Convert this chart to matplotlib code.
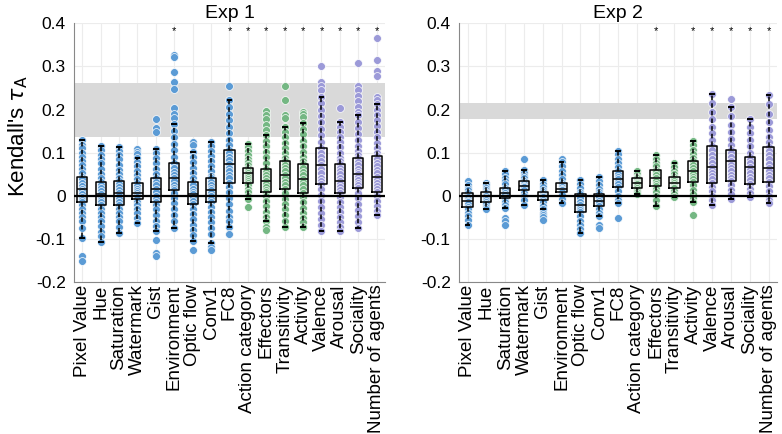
import numpy as np
import matplotlib
matplotlib.use("Agg")
import matplotlib.pyplot as plt

plt.rcParams['font.family'] = ['Liberation Sans', 'DejaVu Sans']

labels = ["Pixel Value", "Hue", "Saturation", "Watermark", "Gist", "Environment",
          "Optic flow", "Conv1", "FC8", "Action category", "Effectors", "Transitivity",
          "Activity", "Valence", "Arousal", "Sociality", "Number of agents"]

# colour group of each category: 0 = blue, 1 = green, 2 = purple
groups = [0, 0, 0, 0, 0, 0, 0, 0, 0, 1, 1, 1, 1, 2, 2, 2, 2]
group_colors = ['#5B9BD5', '#74B783', '#9C9AD8']

# Exp 1 - individual subject values
exp1_points = [
    [0.129, 0.118, 0.110, 0.100, 0.090, 0.080, 0.070, 0.062, 0.052, 0.044, 0.038, 0.030, 0.022, 0.016,
     0.010, 0.004, -0.004, -0.010, -0.014, -0.022, -0.030, -0.040, -0.050, -0.060, -0.075, -0.099, -0.141, -0.151],
    [0.116, 0.105, 0.095, 0.085, 0.075, 0.062, 0.050, 0.040, 0.032, 0.025, 0.018, 0.010, 0.003, -0.004,
     -0.010, -0.016, -0.023, -0.030, -0.040, -0.050, -0.060, -0.070, -0.085, -0.095, -0.108],
    [0.114, 0.104, 0.094, 0.084, 0.072, 0.060, 0.050, 0.042, 0.035, 0.028, 0.020, 0.012, 0.006, 0.000,
     -0.008, -0.015, -0.022, -0.030, -0.040, -0.050, -0.060, -0.072, -0.086],
    [0.108, 0.102, 0.096, 0.087, 0.078, 0.068, 0.058, 0.048, 0.038, 0.029, 0.022, 0.015, 0.010, 0.006,
     0.002, -0.003, -0.008, -0.015, -0.022, -0.030, -0.040, -0.052, -0.064],
    [0.178, 0.156, 0.148, 0.108, 0.098, 0.088, 0.075, 0.062, 0.050, 0.040, 0.032, 0.024, 0.015, 0.008,
     0.000, -0.007, -0.014, -0.022, -0.032, -0.045, -0.058, -0.070, -0.083, -0.103, -0.134, -0.140],
    [0.326, 0.321, 0.288, 0.264, 0.248, 0.203, 0.190, 0.180, 0.166, 0.150, 0.135, 0.120, 0.105, 0.090,
     0.075, 0.065, 0.055, 0.048, 0.040, 0.033, 0.025, 0.018, 0.013, 0.005, -0.005, -0.018, -0.030, -0.045,
     -0.060, -0.076],
    [0.125, 0.118, 0.102, 0.090, 0.078, 0.065, 0.052, 0.040, 0.032, 0.024, 0.016, 0.008, 0.003, -0.004,
     -0.012, -0.020, -0.030, -0.042, -0.055, -0.068, -0.080, -0.092, -0.105, -0.126],
    [0.125, 0.115, 0.104, 0.092, 0.080, 0.068, 0.056, 0.046, 0.040, 0.032, 0.024, 0.018, 0.013, 0.006,
     -0.002, -0.009, -0.016, -0.026, -0.038, -0.050, -0.062, -0.075, -0.090, -0.110, -0.120, -0.126],
    [0.255, 0.222, 0.205, 0.190, 0.175, 0.160, 0.145, 0.130, 0.118, 0.106, 0.098, 0.090, 0.082, 0.073,
     0.065, 0.056, 0.048, 0.040, 0.030, 0.020, 0.008, -0.005, -0.020, -0.035, -0.050, -0.060, -0.072, -0.089],
    [0.121, 0.112, 0.104, 0.095, 0.086, 0.078, 0.070, 0.065, 0.060, 0.056, 0.052, 0.048, 0.043, 0.038,
     0.034, 0.030, 0.024, 0.016, 0.008, 0.000, -0.008, -0.027],
    [0.197, 0.188, 0.178, 0.165, 0.152, 0.141, 0.128, 0.115, 0.102, 0.090, 0.076, 0.062, 0.055, 0.048,
     0.040, 0.035, 0.028, 0.020, 0.014, 0.009, 0.000, -0.012, -0.025, -0.038, -0.050, -0.060, -0.072, -0.080],
    [0.254, 0.222, 0.187, 0.180, 0.160, 0.148, 0.135, 0.122, 0.110, 0.098, 0.088, 0.081, 0.072, 0.064,
     0.056, 0.048, 0.040, 0.032, 0.024, 0.015, 0.005, -0.008, -0.020, -0.032, -0.045, -0.058, -0.072],
    [0.195, 0.190, 0.183, 0.169, 0.155, 0.142, 0.128, 0.115, 0.102, 0.090, 0.080, 0.073, 0.064, 0.055,
     0.047, 0.039, 0.031, 0.024, 0.016, 0.007, -0.004, -0.015, -0.028, -0.040, -0.052, -0.062, -0.072],
    [0.301, 0.264, 0.254, 0.245, 0.230, 0.215, 0.200, 0.185, 0.170, 0.155, 0.140, 0.125, 0.111, 0.100,
     0.090, 0.080, 0.071, 0.062, 0.052, 0.042, 0.034, 0.026, 0.015, 0.002, -0.012, -0.026, -0.040, -0.054,
     -0.068, -0.083],
    [0.204, 0.172, 0.160, 0.148, 0.136, 0.124, 0.112, 0.100, 0.088, 0.080, 0.073, 0.065, 0.057, 0.050,
     0.042, 0.035, 0.028, 0.021, 0.014, 0.007, -0.003, -0.014, -0.026, -0.038, -0.050, -0.062, -0.072, -0.083],
    [0.309, 0.254, 0.245, 0.232, 0.220, 0.205, 0.195, 0.187, 0.172, 0.158, 0.144, 0.130, 0.116, 0.104,
     0.095, 0.087, 0.078, 0.070, 0.062, 0.055, 0.050, 0.044, 0.037, 0.030, 0.024, 0.017, 0.006, -0.006,
     -0.020, -0.034, -0.048, -0.062, -0.076],
    [0.365, 0.315, 0.290, 0.279, 0.228, 0.222, 0.213, 0.200, 0.188, 0.175, 0.162, 0.148, 0.135, 0.122,
     0.110, 0.100, 0.092, 0.084, 0.076, 0.068, 0.060, 0.052, 0.044, 0.037, 0.030, 0.023, 0.016, 0.009,
     0.000, -0.012, -0.024, -0.035, -0.045],
]

# Exp 1 - box summaries
exp1_med = [0.016, 0.003, 0.006, 0.006, 0.015, 0.040, 0.003, 0.013, 0.073, 0.052, 0.035, 0.048, 0.039,
            0.071, 0.035, 0.050, 0.044]
exp1_q1 = [-0.014, -0.023, -0.022, -0.008, -0.014, 0.013, -0.020, -0.016, 0.030, 0.030, 0.009, 0.015, 0.007,
           0.026, 0.007, 0.017, 0.009]
exp1_q3 = [0.044, 0.0325, 0.035, 0.029, 0.040, 0.075, 0.0325, 0.040, 0.106, 0.065, 0.062, 0.081, 0.073,
           0.111, 0.073, 0.087, 0.092]
exp1_wlo = [-0.099, -0.108, -0.086, -0.064, -0.083, -0.076, -0.105, -0.110, -0.072, -0.008, -0.060, -0.072,
            -0.072, -0.083, -0.083, -0.076, -0.045]
exp1_whi = [0.129, 0.116, 0.114, 0.087, 0.108, 0.166, 0.102, 0.125, 0.222, 0.121, 0.141, 0.160, 0.169,
            0.230, 0.172, 0.187, 0.213]
exp1_sig = [6, 9, 10, 11, 12, 13, 14, 15, 16, 17]
exp1_band = (0.135, 0.261)

# Exp 2 - individual subject values
exp2_points = [
    [0.033, 0.025, 0.018, 0.012, 0.005, 0.000, -0.004, -0.008, -0.012, -0.016, -0.020, -0.026, -0.032,
     -0.040, -0.048, -0.056, -0.068],
    [0.030, 0.024, 0.018, 0.013, 0.009, 0.005, 0.001, -0.002, -0.006, -0.010, -0.015, -0.020, -0.026, -0.032],
    [0.057, 0.050, 0.042, 0.034, 0.026, 0.017, 0.012, 0.006, 0.002, -0.005, -0.010, -0.016, -0.022, -0.029,
     -0.052, -0.060, -0.068],
    [0.085, 0.060, 0.052, 0.045, 0.040, 0.035, 0.030, 0.026, 0.023, 0.019, 0.013, 0.006, -0.002, -0.010, -0.022],
    [0.036, 0.028, 0.020, 0.013, 0.009, 0.004, 0.000, -0.004, -0.010, -0.016, -0.024, -0.032, -0.040, -0.045,
     -0.050, -0.057],
    [0.085, 0.077, 0.068, 0.058, 0.048, 0.038, 0.030, 0.024, 0.019, 0.0155, 0.012, 0.009, 0.002, -0.008, -0.018],
    [0.036, 0.028, 0.018, 0.008, 0.003, -0.006, -0.014, -0.022, -0.028, -0.034, -0.039, -0.048, -0.058, -0.068,
     -0.078, -0.086],
    [0.043, 0.035, 0.025, 0.016, 0.008, 0.003, -0.004, -0.012, -0.018, -0.025, -0.032, -0.040, -0.047, -0.068,
     -0.075],
    [0.104, 0.096, 0.086, 0.076, 0.066, 0.057, 0.050, 0.043, 0.038, 0.032, 0.026, 0.019, 0.010, 0.000, -0.010,
     -0.018, -0.052],
    [0.057, 0.050, 0.044, 0.040, 0.036, 0.032, 0.029, 0.026, 0.022, 0.017, 0.012, 0.008, 0.004],
    [0.094, 0.085, 0.076, 0.068, 0.060, 0.054, 0.047, 0.040, 0.034, 0.028, 0.023, 0.016, 0.008, 0.000, -0.010,
     -0.025],
    [0.075, 0.066, 0.058, 0.050, 0.043, 0.038, 0.033, 0.029, 0.025, 0.021, 0.017, 0.010, 0.003, -0.004],
    [0.127, 0.117, 0.106, 0.096, 0.088, 0.080, 0.072, 0.064, 0.056, 0.050, 0.044, 0.038, 0.0325, 0.024, 0.014,
     0.004, -0.006, -0.016, -0.045],
    [0.236, 0.215, 0.195, 0.178, 0.160, 0.145, 0.130, 0.116, 0.105, 0.094, 0.084, 0.075, 0.067, 0.060, 0.053,
     0.046, 0.039, 0.030, 0.020, 0.010, 0.000, -0.010, -0.022],
    [0.224, 0.206, 0.185, 0.165, 0.148, 0.132, 0.118, 0.106, 0.098, 0.090, 0.080, 0.072, 0.064, 0.056, 0.048,
     0.040, 0.034, 0.024, 0.014, 0.004, -0.008],
    [0.177, 0.160, 0.145, 0.130, 0.115, 0.100, 0.090, 0.083, 0.076, 0.067, 0.060, 0.052, 0.044, 0.036, 0.026,
     0.016, 0.006, -0.004],
    [0.234, 0.212, 0.190, 0.170, 0.152, 0.136, 0.124, 0.114, 0.104, 0.094, 0.084, 0.074, 0.064, 0.056, 0.048,
     0.040, 0.0325, 0.022, 0.010, 0.000, -0.010, -0.018],
]

# Exp 2 - box summaries
exp2_med = [-0.012, -0.002, 0.006, 0.023, 0.000, 0.0155, -0.022, -0.012, 0.038, 0.029, 0.040, 0.029, 0.056,
            0.067, 0.080, 0.067, 0.064]
exp2_q1 = [-0.026, -0.015, -0.005, 0.013, -0.010, 0.009, -0.039, -0.025, 0.019, 0.017, 0.023, 0.017, 0.0325,
           0.030, 0.034, 0.026, 0.0325]
exp2_q3 = [0.005, 0.009, 0.017, 0.035, 0.009, 0.030, 0.003, 0.003, 0.057, 0.040, 0.060, 0.043, 0.080,
           0.116, 0.106, 0.090, 0.114]
exp2_wlo = [-0.068, -0.032, -0.029, -0.022, -0.032, -0.018, -0.086, -0.047, -0.018, 0.004, -0.025, -0.004,
            -0.016, -0.022, -0.008, -0.004, -0.018]
exp2_whi = [0.025, 0.030, 0.057, 0.060, 0.036, 0.077, 0.036, 0.043, 0.104, 0.057, 0.094, 0.075, 0.127,
            0.236, 0.206, 0.177, 0.234]
exp2_sig = [11, 13, 14, 15, 16, 17]
exp2_band = (0.178, 0.216)

yticks = [-0.2, -0.1, 0, 0.1, 0.2, 0.3, 0.4]
ytick_labels = ["-0.2", "-0.1", "0", "0.1", "0.2", "0.3", "0.4"]


def draw_panel(ax, title, points, med, q1, q3, wlo, whi, sig, band):
    x = np.arange(1, len(labels) + 1)
    ax.axhspan(band[0], band[1], color='#d9d9d9', lw=0, zorder=1)
    for i, vals in enumerate(points):
        ax.scatter(np.full(len(vals), x[i]), vals, s=32, color=group_colors[groups[i]],
                   edgecolors='white', linewidths=0.5, zorder=2)
    ax.axhline(0, color='black', lw=1.6, zorder=3)
    stats = []
    for i in range(len(labels)):
        stats.append(dict(med=med[i], q1=q1[i], q3=q3[i], whislo=wlo[i], whishi=whi[i], fliers=[]))
    ax.bxp(stats, positions=x, widths=0.55, showfliers=False, manage_ticks=False,
           boxprops=dict(color='black', lw=1.1),
           medianprops=dict(color='black', lw=1.1),
           whiskerprops=dict(color='black', lw=1.1, linestyle=(0, (3, 2))),
           capprops=dict(color='black', lw=1.4), capwidths=0.2)
    for s in sig:
        ax.text(s, 0.383, '*', ha='center', va='center', fontsize=8)
    ax.set_xlim(0.55, len(labels) + 0.45)
    ax.set_ylim(-0.2, 0.4)
    ax.set_xticks(x)
    ax.set_xticklabels(labels, rotation=90, fontsize=13.5)
    ax.set_yticks(yticks)
    ax.set_yticklabels(ytick_labels, fontsize=12.5)
    ax.tick_params(axis='y', length=0, pad=6)
    ax.tick_params(axis='x', length=0, pad=2)
    ax.grid(True, color='#ececec', lw=0.8, zorder=0)
    ax.set_axisbelow(True)
    for side in ['top', 'right']:
        ax.spines[side].set_visible(False)
    for side in ['left', 'bottom']:
        ax.spines[side].set_color('#888888')
        ax.spines[side].set_linewidth(0.8)
    ax.set_title(title, fontsize=14, pad=4)


fig = plt.figure(figsize=(7.82, 4.34), dpi=100)
ax1 = fig.add_axes([0.0946, 0.351, 0.3977, 0.595])
ax2 = fig.add_axes([0.587, 0.351, 0.4066, 0.595])

draw_panel(ax1, "Exp 1", exp1_points, exp1_med, exp1_q1, exp1_q3, exp1_wlo, exp1_whi, exp1_sig, exp1_band)
draw_panel(ax2, "Exp 2", exp2_points, exp2_med, exp2_q1, exp2_q3, exp2_wlo, exp2_whi, exp2_sig, exp2_band)
fig.text(18 / 782, 1 - 136 / 434, r"Kendall's $\tau_\mathrm{A}$", rotation=90,
         ha='center', va='center', fontsize=16)

fig.savefig("out.png", dpi=100)
